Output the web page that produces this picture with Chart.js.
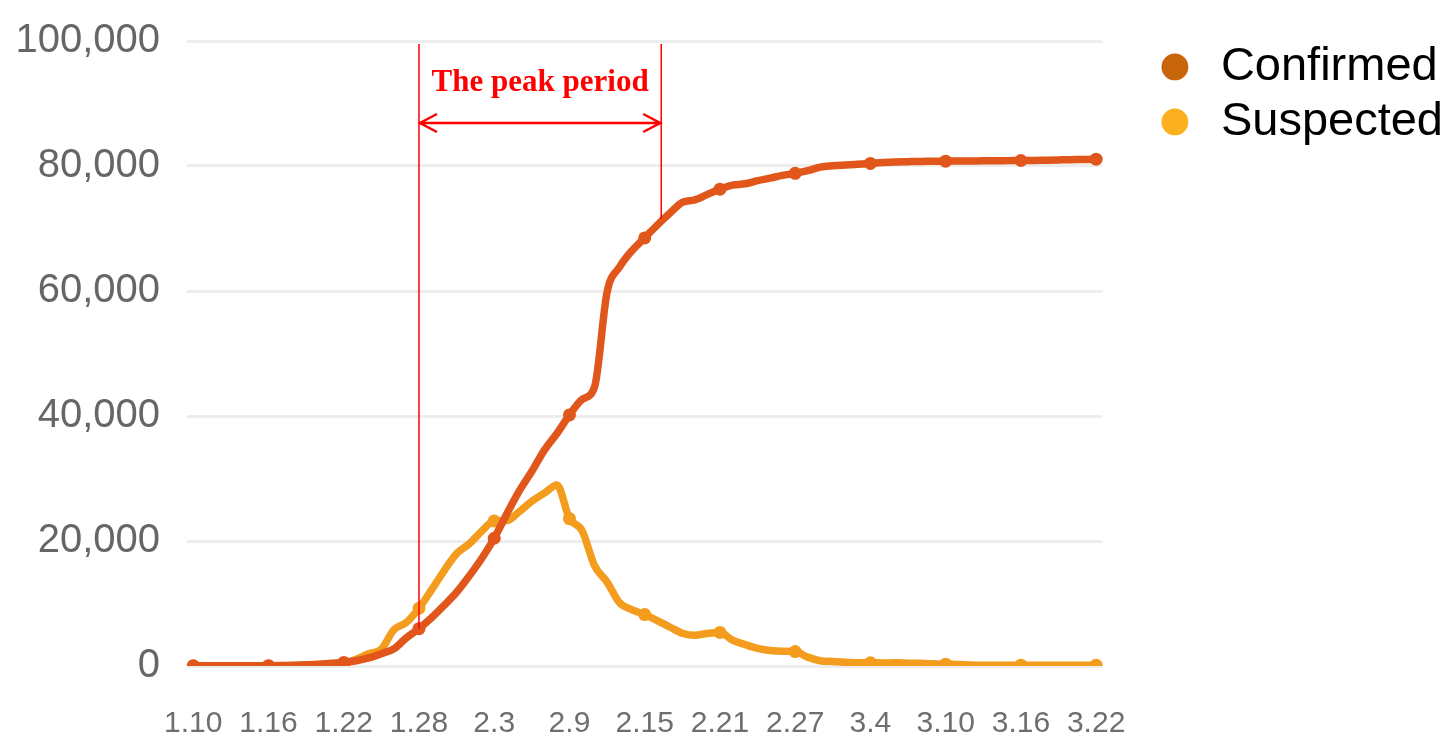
<!DOCTYPE html>
<html>
<head>
<meta charset="utf-8">
<script src="https://cdn.jsdelivr.net/npm/chart.js@4.4.1/dist/chart.umd.min.js"></script>
<style>
html, body { margin: 0; padding: 0; background: #fff; }
#wrap { width: 1453px; height: 740px; position: relative; }
</style>
</head>
<body>
<div id="wrap"><canvas id="cases_plot_canvas"></canvas></div>
<script>
const dates = [
    '1.10', '1.11', '1.12', '1.13', '1.14', '1.15', '1.16', '1.17', '1.18', '1.19', '1.20',
    '1.21', '1.22', '1.23', '1.24', '1.25', '1.26', '1.27', '1.28', '1.29', '1.30', '1.31',
    '2.1', '2.2', '2.3', '2.4', '2.5', '2.6', '2.7', '2.8', '2.9', '2.10',
    '2.11', '2.12', '2.13', '2.14', '2.15', '2.16', '2.17', '2.18', '2.19', '2.20',
    '2.21', '2.22', '2.23', '2.24', '2.25', '2.26', '2.27', '2.28', '2.29',
    '3.1', '3.2', '3.3', '3.4', '3.5', '3.6', '3.7', '3.8', '3.9', '3.10',
    '3.11', '3.12', '3.13', '3.14', '3.15', '3.16', '3.17', '3.18', '3.19', '3.20',
    '3.21', '3.22'
];

const confirmed = [
    41, 41, 41, 41, 41, 41, 45, 62, 121, 198, 291,
    440, 571, 830, 1287, 1975, 2744, 4515, 5974, 7711, 9692, 11791,
    14380, 17205, 20438, 24324, 28018, 31161, 34546, 37198, 40171, 42638,
    44653, 59804, 63851, 66492, 68500, 70548, 72436, 74185, 74576, 75465,
    76288, 76936, 77150, 77658, 78064, 78497, 78824, 79251, 79824,
    80026, 80151, 80270, 80409, 80552, 80651, 80695, 80735, 80754, 80778,
    80793, 80813, 80824, 80844, 80860, 80881, 80894, 80928, 80967, 81008,
    81054, 81093
];

const suspected = [
    0, 0, 0, 0, 0, 0, 0, 0, 0, 0, 0,
    37, 393, 1072, 1965, 2684, 5794, 6973, 9239, 12167, 15238, 17988,
    19544, 21558, 23214, 23260, 24702, 26359, 27657, 28942, 23589, 21675,
    16067, 13435, 10109, 8969, 8228, 7264, 6242, 5248, 4922, 5206,
    5365, 4148, 3434, 2824, 2491, 2358, 2308, 1418, 851,
    715, 587, 520, 522, 482, 502, 458, 421, 349, 285,
    253, 147, 115, 113, 134, 128, 119, 105, 104, 106,
    118, 136
];

const seriesNames = ['Confirmed', 'Suspected'];
const lineColors = ['#E0561B', '#F39C1D'];
const legendColors = ['#C8650B', '#FCAF1F'];
const yTicks = [0, 20000, 40000, 60000, 80000, 100000];
const peakPeriod = ['1.28', '2.16'];
const peakLabel = 'The peak period';

const axisFont = '"Liberation Sans", Arial, sans-serif';

// red marker for the peak period
const peakPlugin = {
    id: 'peakPeriod',
    afterDatasetsDraw(chart) {
        const {ctx, chartArea, scales: {x, y}} = chart;
        const i0 = dates.indexOf(peakPeriod[0]);
        const i1 = dates.indexOf(peakPeriod[1]);
        const x0 = x.getPixelForValue(i0);
        const x1 = x.getPixelForValue(i1) + 4;
        const top = chartArea.top + 3;
        ctx.save();
        ctx.strokeStyle = '#FF0000';
        ctx.fillStyle = '#FF0000';
        ctx.lineWidth = 1.5;
        ctx.beginPath();
        ctx.moveTo(x0, top);
        ctx.lineTo(x0, y.getPixelForValue(confirmed[i0]));
        ctx.moveTo(x1, top);
        ctx.lineTo(x1, y.getPixelForValue(confirmed[i1]) - 6);
        ctx.stroke();

        const ay = chartArea.top + 82;
        ctx.lineWidth = 2.5;
        ctx.beginPath();
        ctx.moveTo(x0, ay);
        ctx.lineTo(x1, ay);
        ctx.moveTo(x0 + 18, ay - 9);
        ctx.lineTo(x0 + 1, ay);
        ctx.lineTo(x0 + 18, ay + 9);
        ctx.moveTo(x1 - 18, ay - 9);
        ctx.lineTo(x1 - 1, ay);
        ctx.lineTo(x1 - 18, ay + 9);
        ctx.stroke();

        ctx.font = 'bold 31px "Liberation Serif", "Times New Roman", serif';
        ctx.textAlign = 'center';
        ctx.textBaseline = 'middle';
        ctx.fillText(peakLabel, (x0 + x1) / 2, chartArea.top + 42);
        ctx.restore();
    }
};

const markerRadius = function(ctx) {
    return ctx.index % 6 === 0 ? 6.5 : 0;
};

const casesCanvas = document.getElementById('cases_plot_canvas');
const casesChart = new Chart(casesCanvas, {
    type: 'line',
    data: {
        labels: dates,
        datasets: [{
            label: seriesNames[0],
            data: confirmed,
            borderColor: lineColors[0],
            backgroundColor: lineColors[0],
            borderWidth: 7.5,
            pointRadius: markerRadius,
            pointBorderWidth: 0,
            cubicInterpolationMode: 'monotone',
        }, {
            label: seriesNames[1],
            data: suspected,
            borderColor: lineColors[1],
            backgroundColor: lineColors[1],
            borderWidth: 7.5,
            pointRadius: markerRadius,
            pointBorderWidth: 0,
            cubicInterpolationMode: 'monotone',
        }]
    },
    options: {
        responsive: true,
        maintainAspectRatio: false,
        animation: false,
        layout: {
            padding: { left: 14, top: 15, right: 0, bottom: 0 }
        },
        scales: {
            x: {
                offset: true,
                grid: { display: false },
                border: { display: false },
                afterFit: function(scale) { scale.height = 74; },
                ticks: {
                    autoSkip: false,
                    maxRotation: 0,
                    padding: 32,
                    color: '#6E6E6E',
                    font: { family: axisFont, size: 30 },
                    callback: function(value, index) {
                        return index % 6 === 0 ? dates[index] : null;
                    }
                }
            },
            y: {
                min: 0,
                max: 100000,
                afterBuildTicks: function(scale) {
                    scale.ticks = yTicks.map(v => ({ value: v }));
                },
                afterFit: function(scale) { scale.width = 173; },
                grid: {
                    color: '#EDEDED',
                    lineWidth: 3,
                    drawTicks: false,
                },
                border: { display: false },
                ticks: {
                    padding: 27,
                    color: '#666666',
                    font: { family: axisFont, size: 40, lineHeight: 0.7 },
                    callback: function(value) {
                        return value.toLocaleString('en-US');
                    }
                }
            },
            gap: {
                position: 'right',
                grid: { display: false },
                border: { display: false },
                ticks: { display: false },
                afterFit: function(scale) { scale.width = 42; }
            }
        },
        plugins: {
            tooltip: { enabled: false },
            legend: {
                position: 'right',
                align: 'start',
                maxWidth: 340,
                title: { display: true, text: '', padding: 0, font: { size: 17 } },
                labels: {
                    usePointStyle: true,
                    pointStyle: 'circle',
                    boxWidth: 45,
                    boxHeight: 19,
                    padding: 8,
                    color: '#000000',
                    font: { family: axisFont, size: 47 },
                    generateLabels: function(chart) {
                        const items = Chart.defaults.plugins.legend.labels.generateLabels(chart);
                        items.forEach(function(item, i) {
                            item.fillStyle = legendColors[i];
                            item.strokeStyle = legendColors[i];
                            item.lineWidth = 0;
                            item.pointStyle = 'circle';
                        });
                        return items;
                    }
                }
            }
        }
    },
    plugins: [peakPlugin]
});
</script>
</body>
</html>
